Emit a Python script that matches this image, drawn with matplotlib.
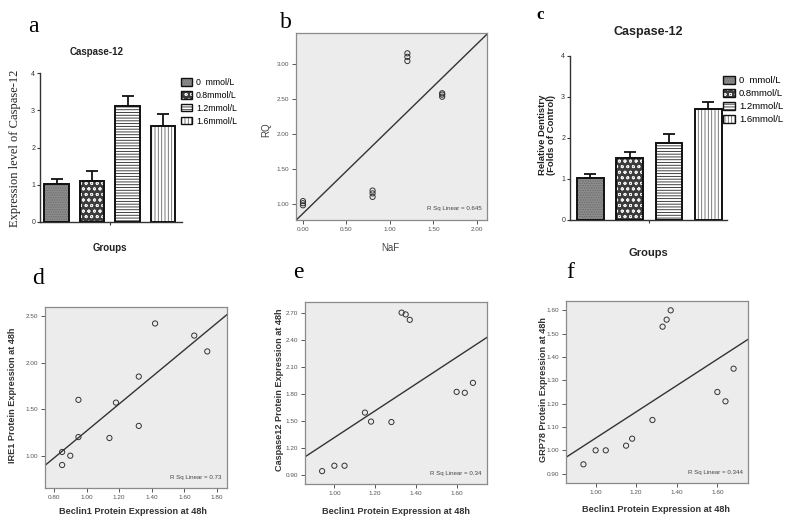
import numpy as np
import matplotlib
matplotlib.use("Agg")
import matplotlib.pyplot as plt
from matplotlib.patches import Patch

# ---------------- data ----------------
groups = ["0  mmol/L", "0.8mmol/L", "1.2mmol/L", "1.6mmol/L"]
a_means = [1.02, 1.10, 3.12, 2.58]
a_err = [0.13, 0.27, 0.28, 0.33]
c_means = [1.03, 1.52, 1.87, 2.70]
c_err = [0.09, 0.14, 0.22, 0.18]

b_naf = [0.0, 0.0, 0.0, 0.8, 0.8, 0.8, 1.2, 1.2, 1.2, 1.6, 1.6, 1.6]
b_rq = [1.04, 1.01, 0.98, 1.19, 1.15, 1.10, 3.15, 3.10, 3.04, 2.58, 2.56, 2.53]

d_beclin = [0.85, 0.85, 0.90, 0.95, 0.95, 1.14, 1.18, 1.32, 1.32, 1.42, 1.66, 1.74]
d_ire1 = [1.04, 0.90, 1.00, 1.20, 1.60, 1.19, 1.57, 1.85, 1.32, 2.42, 2.29, 2.12]

ef_beclin = [0.94, 1.00, 1.05, 1.15, 1.18, 1.28, 1.33, 1.35, 1.37, 1.60, 1.64, 1.68]
e_casp12 = [0.94, 1.00, 1.00, 1.59, 1.49, 1.485, 2.70, 2.68, 2.62, 1.82, 1.81, 1.92]
f_grp78 = [0.94, 1.00, 1.00, 1.02, 1.05, 1.13, 1.53, 1.56, 1.60, 1.25, 1.21, 1.35]

# ---------------- layout helpers ----------------
W, H = 795, 520
fig = plt.figure(figsize=(W / 100, H / 100), dpi=100)
plt.rcParams['hatch.linewidth'] = 0.6

NARROW = ['Liberation Sans Narrow', 'Liberation Sans', 'DejaVu Sans']
SANS = ['Liberation Sans', 'DejaVu Sans']
SERIF = ['Liberation Serif', 'DejaVu Serif']


def add_ax(l, r, t, b):
    return fig.add_axes([l / W, 1 - b / H, (r - l) / W, (b - t) / H])


def ftext(x, y, s, **kw):
    fig.text(x / W, 1 - y / H, s, **kw)


styles = [
    dict(face='#8c8c8c', hc='#6a6a6a', hatch='.......'),
    dict(face='#3c3c3c', hc='#f0f0f0', hatch='ooo'),
    dict(face='white', hc='#222222', hatch='------'),
    dict(face='white', hc='#666666', hatch='|||||'),
]


def bar_panel(ax, means, errs, xlim):
    x = np.arange(len(means))
    for i in range(len(means)):
        st = styles[i]
        ax.bar(x[i], means[i], width=0.68, color=st['face'], edgecolor=st['hc'],
               hatch=st['hatch'], linewidth=0, zorder=2)
        ax.bar(x[i], means[i], width=0.68, fill=False, edgecolor='#111111',
               linewidth=1.4, zorder=3)
    ax.errorbar(x, means, yerr=[np.zeros(len(errs)), errs], fmt='none',
                ecolor='#111111', elinewidth=1.3, capsize=4, capthick=1.3, zorder=1)
    ax.set_xlim(*xlim)
    ax.set_ylim(0, 4)
    ax.set_yticks([0, 1, 2, 3, 4])
    ax.set_xticks([1.5])
    ax.set_xticklabels([''])
    for s in ['top', 'right']:
        ax.spines[s].set_visible(False)
    for s in ['left', 'bottom']:
        ax.spines[s].set_linewidth(1.0)
        ax.spines[s].set_color('#333333')
    ax.tick_params(axis='both', length=2.5, width=0.8, labelsize=5, pad=1,
                   colors='#333333')
    for lab in ax.get_yticklabels():
        lab.set_family(NARROW)


def legend_handles():
    hs = []
    for st in styles:
        p1 = Patch(facecolor=st['face'], edgecolor=st['hc'], hatch=st['hatch'], linewidth=0)
        p2 = Patch(fill=False, edgecolor='#111111', linewidth=1.0)
        hs.append((p1, p2))
    return hs


# ---------------- panel a ----------------
axa = add_ax(40, 182, 73.3, 221.7)
bar_panel(axa, a_means, a_err, (-0.465, 3.535))
axa.legend(legend_handles(), groups, loc='upper left',
           bbox_to_anchor=(181 / W, 1 - 78 / H), bbox_transform=fig.transFigure,
           frameon=False, handlelength=1.3, handleheight=0.9, handletextpad=0.4,
           labelspacing=0.45, borderpad=0, borderaxespad=0,
           prop=dict(family=NARROW, size=6.3))
ftext(97, 52, 'Caspase-12', ha='center', va='center', family=NARROW,
      fontweight='bold', fontsize=7, color='#222222')
ftext(110, 248, 'Groups', ha='center', va='center', family=NARROW,
      fontweight='bold', fontsize=7, color='#222222')
ftext(15, 148, 'Expression level of Caspase-12', ha='center', va='center',
      rotation=90, family=SERIF, fontsize=9, color='#222222')
ftext(33, 26, 'a', ha='center', va='center', family=SERIF, fontsize=17)

# ---------------- panel c ----------------
axc = add_ax(570, 727, 55.7, 220)
bar_panel(axc, c_means, c_err, (-0.51, 3.47))
axc.legend(legend_handles(), groups, loc='upper left',
           bbox_to_anchor=(723 / W, 1 - 76 / H), bbox_transform=fig.transFigure,
           frameon=False, handlelength=1.3, handleheight=0.9, handletextpad=0.4,
           labelspacing=0.4, borderpad=0, borderaxespad=0,
           prop=dict(family=NARROW, size=6.8))
ftext(648, 32, 'Caspase-12', ha='center', va='center', family=NARROW,
      fontweight='bold', fontsize=9, color='#222222')
ftext(648, 253, 'Groups', ha='center', va='center', family=NARROW,
      fontweight='bold', fontsize=8, color='#222222')
ftext(547, 135, 'Relative Dentistry\n(Folds of Control)', ha='center', va='center',
      rotation=90, family=SANS, fontweight='bold', fontsize=6.8, color='#222222',
      linespacing=1.0)
ftext(540, 15, 'c', ha='center', va='center', family=SERIF, fontweight='bold', fontsize=12)


# ---------------- scatter panels ----------------
def scatter_panel(ax, x, y, xlim, ylim, xticks, yticks, rsq, fit=True):
    ax.set_facecolor('#ececec')
    ax.scatter(x, y, s=14, facecolors='none', edgecolors='#333333', linewidths=0.7,
               zorder=3)
    if fit:
        k, c0 = np.polyfit(x, y, 1)
        xx = np.array(xlim)
        ax.plot(xx, k * xx + c0, color='#333333', lw=1.0, zorder=2)
    ax.set_xlim(*xlim)
    ax.set_ylim(*ylim)
    ax.set_xticks(xticks)
    ax.set_yticks(yticks)
    ax.set_xticklabels(['%.2f' % v for v in xticks])
    ax.set_yticklabels(['%.2f' % v for v in yticks])
    for s in ax.spines.values():
        s.set_color('#8a8a8a')
        s.set_linewidth(0.9)
    ax.tick_params(axis='both', length=3, width=0.7, labelsize=4.6, pad=2,
                   colors='#555555')
    for lab in ax.get_xticklabels() + ax.get_yticklabels():
        lab.set_family(NARROW)
    ax.text(0.97, 0.06, 'R Sq Linear = %s' % rsq, transform=ax.transAxes,
            ha='right', va='center', fontsize=4.4, family=NARROW, color='#444444')


# panel b
axb = add_ax(296, 487, 33, 220)
scatter_panel(axb, b_naf, b_rq, (-0.08, 2.115), (0.77, 3.44),
              [0.0, 0.5, 1.0, 1.5, 2.0], [1.0, 1.5, 2.0, 2.5, 3.0], '0.645')
ftext(266, 130, 'RQ', ha='center', va='center', rotation=90, family=SANS,
      fontsize=7, color='#444444')
ftext(390, 248, 'NaF', ha='center', va='center', family=SANS,
      fontsize=7, color='#444444')
ftext(286, 22, 'b', ha='center', va='center', family=SERIF, fontsize=17)

# panel d
axd = add_ax(45, 227, 307, 488)
scatter_panel(axd, d_beclin, d_ire1, (0.745, 1.861), (0.653, 2.597),
              [0.8, 1.0, 1.2, 1.4, 1.6, 1.8], [1.0, 1.5, 2.0, 2.5], '0.73')
ftext(13, 395, 'IRE1 Protein Expression at 48h', ha='center', va='center',
      rotation=90, family=NARROW, fontweight='bold', fontsize=6.6, color='#333333')
ftext(133, 512, 'Beclin1 Protein Expression at 48h', ha='center', va='center',
      family=NARROW, fontweight='bold', fontsize=6.6, color='#333333')
ftext(38, 279, 'd', ha='center', va='center', family=SERIF, fontsize=17)

# panel e
axe = add_ax(305, 487, 302, 484)
scatter_panel(axe, ef_beclin, e_casp12, (0.856, 1.749), (0.797, 2.818),
              [1.0, 1.2, 1.4, 1.6], [0.9, 1.2, 1.5, 1.8, 2.1, 2.4, 2.7], '0.34')
ftext(280, 390, 'Caspase12 Protein Expression at 48h', ha='center', va='center',
      rotation=90, family=NARROW, fontweight='bold', fontsize=6.6, color='#333333')
ftext(396, 512, 'Beclin1 Protein Expression at 48h', ha='center', va='center',
      family=NARROW, fontweight='bold', fontsize=6.6, color='#333333')
ftext(298, 272, 'e', ha='center', va='center', family=SERIF, fontsize=17)

# panel f
axf = add_ax(566, 748, 301, 483)
scatter_panel(axf, ef_beclin, f_grp78, (0.854, 1.751), (0.86, 1.64),
              [1.0, 1.2, 1.4, 1.6], [0.9, 1.0, 1.1, 1.2, 1.3, 1.4, 1.5, 1.6], '0.344')
ftext(543, 390, 'GRP78 Protein Expression at 48h', ha='center', va='center',
      rotation=90, family=NARROW, fontweight='bold', fontsize=6.6, color='#333333')
ftext(656, 510, 'Beclin1 Protein Expression at 48h', ha='center', va='center',
      family=NARROW, fontweight='bold', fontsize=6.6, color='#333333')
ftext(570, 273, 'f', ha='center', va='center', family=SERIF, fontsize=17)

fig.savefig('out.png', dpi=100)
